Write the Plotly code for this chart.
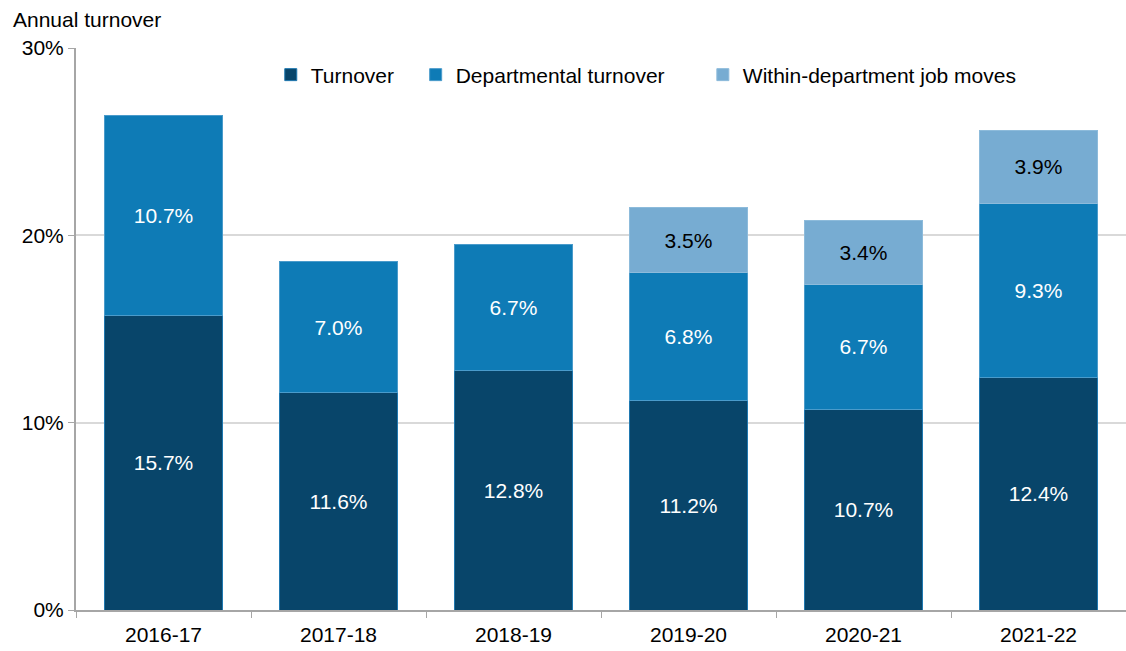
import plotly.graph_objects as go

years = ["2016-17", "2017-18", "2018-19", "2019-20", "2020-21", "2021-22"]
turnover = [15.7, 11.6, 12.8, 11.2, 10.7, 12.4]
departmental = [10.7, 7.0, 6.7, 6.8, 6.7, 9.3]
within_moves = [None, None, None, 3.5, 3.4, 3.9]

FONT = "Liberation Sans, Arial, sans-serif"
FS = 21

def labels(vals):
    return [f"{v:.1f}%" if v is not None else "" for v in vals]

fig = go.Figure()
fig.add_trace(go.Bar(
    x=years, y=turnover, name="Turnover", legend="legend",
    marker=dict(color="#08456A", line=dict(color="#1F78B0", width=1)),
    text=labels(turnover), textposition="inside", insidetextanchor="middle",
    textfont=dict(color="white", size=FS, family=FONT),
))
fig.add_trace(go.Bar(
    x=years, y=departmental, name="Departmental turnover", legend="legend2",
    marker=dict(color="#0E7BB6", line=dict(color="#4A9BCB", width=1)),
    text=labels(departmental), textposition="inside", insidetextanchor="middle",
    textfont=dict(color="white", size=FS, family=FONT),
))
fig.add_trace(go.Bar(
    x=years, y=within_moves, name="Within-department job moves", legend="legend3",
    marker=dict(color="#77ACD2", line=dict(color="#8DBBDB", width=1)),
    text=labels(within_moves), textposition="inside", insidetextanchor="middle",
    textfont=dict(color="black", size=FS, family=FONT),
))

def leg(x):
    return dict(
        orientation="h", x=x, y=0.952, xanchor="left", yanchor="middle",
        font=dict(size=FS, family=FONT), bgcolor="rgba(0,0,0,0)", itemwidth=30,
    )

fig.update_layout(
    barmode="stack",
    bargap=0.326,
    width=1126, height=651,
    margin=dict(l=76, r=0, t=48, b=41),
    paper_bgcolor="white", plot_bgcolor="white",
    font=dict(family=FONT, size=FS, color="black"),
    showlegend=True,
    legend=leg(0.1855),
    legend2=leg(0.3235),
    legend3=leg(0.597),
    uniformtext=dict(mode=False),
    annotations=[dict(
        text="Annual turnover", xref="paper", yref="paper",
        x=-65/1050, y=1.0, xanchor="left", yanchor="bottom",
        yshift=15, showarrow=False, font=dict(size=FS, family=FONT),
    )],
)
fig.update_xaxes(
    showline=True, linecolor="#A6A6A6", linewidth=2,
    ticks="outside", tickson="boundaries", ticklen=6, tickcolor="#A6A6A6",
    tickfont=dict(size=FS, family=FONT), ticklabelstandoff=5,
    showgrid=False,
)
fig.update_yaxes(
    range=[0, 30], tickvals=[0, 10, 20, 30], ticktext=["0%", "10%", "20%", "30%"],
    showline=True, linecolor="#A6A6A6", linewidth=2,
    ticks="outside", ticklen=6, tickcolor="#A6A6A6",
    showgrid=True, gridcolor="#D9D9D9", gridwidth=2,
    tickfont=dict(size=FS, family=FONT), zeroline=False,
)

fig.write_html(
    "out.html",
    config={"displayModeBar": False},
    post_script="document.body.style.margin='0';document.body.style.overflow='hidden';",
)
